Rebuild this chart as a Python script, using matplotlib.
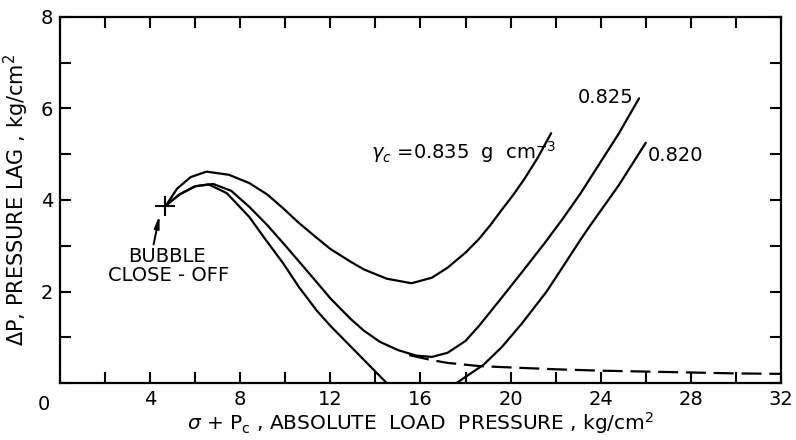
import matplotlib

matplotlib.use('Agg')
import matplotlib.pyplot as plt
from matplotlib.ticker import MultipleLocator

# Значения (x: σ + Pc, y: ΔP)
x_835 = [4.7, 5.2, 5.8, 6.5, 7.5, 8.4, 9.2, 9.9, 10.6, 11.4, 12.0, 12.9, 13.5, 14.5, 15.6,
         16.5, 17.2, 18.0, 18.6, 19.1, 19.6, 20.1, 20.6, 21.2, 21.8]
y_835 = [3.88, 4.25, 4.50, 4.62, 4.55, 4.37, 4.12, 3.82, 3.50, 3.17, 2.93, 2.65, 2.48, 2.28, 2.18,
         2.30, 2.52, 2.85, 3.15, 3.45, 3.78, 4.10, 4.45, 4.92, 5.46]

x_825 = [4.7, 5.3, 6.0, 6.8, 7.6, 8.4, 9.2, 9.9, 10.6, 11.4, 12.0, 12.9, 13.5, 14.2, 15.0,
         15.8, 16.5, 17.2, 18.0, 18.6, 19.5, 20.5, 21.5, 22.3, 23.1, 23.8, 24.8, 25.7]
y_825 = [3.88, 4.12, 4.30, 4.35, 4.20, 3.85, 3.45, 3.06, 2.66, 2.20, 1.85, 1.40, 1.14, 0.90, 0.72,
         0.60, 0.57, 0.66, 0.92, 1.25, 1.80, 2.42, 3.05, 3.58, 4.14, 4.68, 5.45, 6.22]

x_820 = [4.7, 5.3, 6.0, 6.6, 7.4, 8.4, 9.1, 9.9, 10.6, 11.4, 12.0, 12.9, 13.5, 14.5, 15.0,
         15.5, 16.0, 16.5, 17.0, 17.6, 18.8, 19.6, 20.5, 21.6, 22.2, 23.1, 23.5, 24.8, 26.0]
y_820 = [3.88, 4.12, 4.30, 4.34, 4.15, 3.63, 3.15, 2.62, 2.10, 1.58, 1.25, 0.80, 0.50, 0.00, -0.22,
         -0.35, -0.40, -0.35, -0.20, 0.00, 0.40, 0.78, 1.30, 2.00, 2.45, 3.13, 3.42, 4.32, 5.25]

x_dash = [15.5, 16.5, 17.2, 18.6, 20.5, 22.0, 24.0, 26.0, 28.0, 30.0, 32.0]
y_dash = [0.61, 0.50, 0.44, 0.37, 0.33, 0.30, 0.27, 0.25, 0.23, 0.21, 0.20]

closeoff_x, closeoff_y = 4.66, 3.87

plt.rcParams['font.family'] = ['DejaVu Sans']

fig = plt.figure(figsize=(7.96, 4.40), dpi=100)
ax = fig.add_axes([0.0754, 0.1295, 0.9057, 0.832])

lw = 1.6
for xs, ys in [(x_835, y_835), (x_825, y_825), (x_820, y_820)]:
    ax.plot(xs, ys, color='black', lw=lw, solid_joinstyle='round', solid_capstyle='round')
ax.plot(x_dash, y_dash, color='black', lw=lw, dashes=(9, 3.5))

ax.plot([closeoff_x], [closeoff_y], marker='+', ms=14, mew=1.5, color='black')
ax.annotate('', xy=(4.44, 3.72), xytext=(4.13, 2.97),
            arrowprops=dict(arrowstyle='-|>,head_length=0.7,head_width=0.15',
                            color='black', lw=1.4))
ax.text(4.75, 2.76, 'BUBBLE', ha='center', va='center', fontsize=14)
ax.text(4.8, 2.36, 'CLOSE - OFF', ha='center', va='center', fontsize=14)

ax.text(13.8, 5.05, r'$\gamma_c$ =0.835  g  cm$^{-3}$', ha='left', va='center', fontsize=14)
ax.text(23.0, 6.25, '0.825', ha='left', va='center', fontsize=14)
ax.text(26.1, 4.98, '0.820', ha='left', va='center', fontsize=14)

ax.set_xlim(0, 32)
ax.set_ylim(0, 8)
ax.xaxis.set_major_locator(MultipleLocator(4))
ax.xaxis.set_minor_locator(MultipleLocator(2))
ax.yaxis.set_major_locator(MultipleLocator(2))
ax.yaxis.set_minor_locator(MultipleLocator(1))
ax.tick_params(which='both', direction='in', top=True, right=True,
               length=8, width=1.5, labelsize=14, pad=5)
ax.set_xticks([4, 8, 12, 16, 20, 24, 28, 32])
ax.set_yticks([2, 4, 6, 8])
ax.text(-0.022, -0.033, '0', transform=ax.transAxes, ha='center', va='top', fontsize=14)
for s in ax.spines.values():
    s.set_linewidth(1.6)

ax.set_xlabel(r'$\sigma$ + P$_{\rm c}$ , ABSOLUTE  LOAD  PRESSURE , kg/cm$^2$', fontsize=14.5, labelpad=1)
ax.set_ylabel(r'$\Delta$P, PRESSURE LAG , kg/cm$^2$', fontsize=15, labelpad=7)

fig.savefig('out.png', dpi=100)
